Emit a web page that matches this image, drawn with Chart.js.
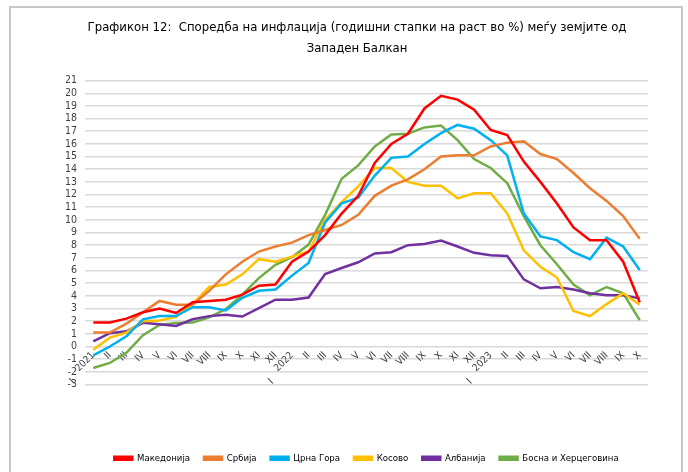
<!DOCTYPE html>
<html>
<head>
<meta charset="utf-8">
<script src="https://cdn.jsdelivr.net/npm/chart.js@4.4.1/dist/chart.umd.min.js"></script>
<style>
  html, body { margin: 0; padding: 0; background: #fff; }
  #wrap { position: relative; width: 688px; height: 472px; overflow: hidden; }
  #frame { position: absolute; left: 9px; top: 6px; width: 670px; height: 520px;
           border: 2px solid #c8c8c8; }
  #c { position: absolute; left: 0; top: 0; }
</style>
</head>
<body>
<div id="wrap">
  <div id="frame"></div>
  <canvas id="c" width="688" height="472"></canvas>
</div>
<script>
// Месеци (јан 2021 – окт 2023), јануари го носи годината
const years = ['2021', '2022', '2023'];
const months = ['I', 'II', 'III', 'IV', 'V', 'VI', 'VII', 'VIII', 'IX', 'X', 'XI', 'XII'];
const lastMonth = 10; // октомври 2023

const makedonija = [1.9, 1.9, 2.2, 2.7, 3.0, 2.65, 3.5, 3.6, 3.7, 4.1, 4.8, 4.9,
  6.7, 7.5, 8.8, 10.5, 11.9, 14.5, 16.0, 16.8, 18.8, 19.8, 19.5, 18.7,
  17.1, 16.7, 14.6, 13.0, 11.3, 9.4, 8.4, 8.4, 6.7, 3.5];
const srbija = [1.1, 1.1, 1.8, 2.7, 3.6, 3.3, 3.3, 4.4, 5.7, 6.7, 7.5, 7.9,
  8.2, 8.8, 9.2, 9.6, 10.4, 11.9, 12.7, 13.2, 14.0, 15.0, 15.1, 15.1,
  15.8, 16.1, 16.2, 15.2, 14.8, 13.7, 12.5, 11.5, 10.3, 8.5];
const crnaGora = [-0.7, 0.0, 0.8, 2.15, 2.4, 2.4, 3.1, 3.1, 2.85, 3.85, 4.4, 4.5,
  5.6, 6.6, 9.8, 11.3, 11.75, 13.5, 14.9, 15.0, 16.0, 16.85, 17.5, 17.2,
  16.3, 15.1, 10.5, 8.7, 8.4, 7.45, 6.9, 8.6, 7.9, 6.05];
const kosovo = [-0.25, 0.7, 1.1, 2.0, 2.05, 2.35, 3.35, 4.7, 4.9, 5.7, 6.9, 6.7,
  7.1, 7.5, 10.0, 11.4, 12.65, 14.1, 14.1, 13.0, 12.7, 12.7, 11.7, 12.1,
  12.1, 10.5, 7.6, 6.3, 5.45, 2.8, 2.4, 3.35, 4.2, 3.3];
const albanija = [0.4, 1.05, 1.2, 1.87, 1.76, 1.63, 2.15, 2.4, 2.5, 2.37, 3.03, 3.7,
  3.7, 3.87, 5.72, 6.2, 6.65, 7.35, 7.45, 8.0, 8.1, 8.37, 7.9, 7.4,
  7.2, 7.15, 5.3, 4.6, 4.7, 4.5, 4.2, 4.05, 4.05, 3.8];
const bih = [-1.7, -1.3, -0.5, 0.9, 1.7, 1.85, 1.9, 2.3, 2.95, 4.1, 5.4, 6.45,
  7.05, 8.05, 10.4, 13.25, 14.3, 15.8, 16.75, 16.8, 17.3, 17.45, 16.3, 14.8,
  14.1, 12.9, 10.3, 8.0, 6.5, 4.9, 4.05, 4.7, 4.2, 2.08];

const yMin = -3, yMax = 21;

// ознаки на x-оската
const labels = [];
years.forEach((y, yi) => {
  const n = yi === years.length - 1 ? lastMonth : 12;
  for (let m = 0; m < n; m++) labels.push(m === 0 ? y : months[m]);
});

const FONT = "'DejaVu Sans Condensed', 'Liberation Sans Narrow', 'Liberation Sans', sans-serif";

const series = [
  { label: 'Македонија', data: makedonija, color: '#ff0000' },
  { label: 'Србија', data: srbija, color: '#ed7d31' },
  { label: 'Црна Гора', data: crnaGora, color: '#00b0f0' },
  { label: 'Косово', data: kosovo, color: '#ffc000' },
  { label: 'Албанија', data: albanija, color: '#7030a0' },
  { label: 'Босна и Херцеговина', data: bih, color: '#70ad47' }
];

// „I“ под годината (втор ред кај јануари)
const janMark = {
  id: 'janMark',
  afterDraw(chart) {
    const { ctx, scales } = chart;
    ctx.save();
    ctx.font = '10px ' + FONT;
    ctx.fillStyle = '#404040';
    labels.forEach((l, i) => {
      if (!years.includes(l)) return;
      const x = scales.x.getPixelForValue(i) - 21;
      const y = scales.y.getPixelForValue(yMin) - 3;
      ctx.translate(x, y);
      ctx.rotate(-Math.PI / 4);
      ctx.textAlign = 'center';
      ctx.textBaseline = 'middle';
      ctx.fillText('I', 0, 0);
      ctx.setTransform(1, 0, 0, 1, 0, 0);
    });
    ctx.restore();
  }
};

new Chart(document.getElementById('c'), {
  type: 'line',
  data: {
    labels: labels,
    datasets: series.map(s => ({
      label: s.label,
      data: s.data,
      borderColor: s.color,
      backgroundColor: s.color,
      borderWidth: 2.5,
      pointRadius: 0,
      tension: 0
    }))
  },
  options: {
    responsive: false,
    animation: false,
    layout: { padding: { left: 66, right: 40, top: 6, bottom: -1 } },
    plugins: {
      title: {
        display: true,
        text: ['Графикон 12:  Споредба на инфлација (годишни стапки на раст во %) меѓу земјите од', 'Западен Балкан'],
        color: '#000',
        font: { family: FONT, size: 13, weight: 'normal', lineHeight: 1.6 },
        padding: { top: 11, bottom: 22 }
      },
      legend: {
        position: 'bottom',
        fullSize: false,
        labels: {
          boxWidth: 18,
          boxHeight: 3,
          padding: 14,
          color: '#000',
          font: { family: FONT, size: 9.5 }
        }
      },
      tooltip: { enabled: false }
    },
    scales: {
      x: {
        position: { y: 0 },
        offset: true,
        grid: { display: false, drawTicks: false },
        border: { display: false },
        ticks: {
          autoSkip: false,
          maxRotation: 45,
          minRotation: 45,
          padding: 3,
          color: '#404040',
          font: { family: FONT, size: 10 }
        }
      },
      // празен простор меѓу графикот и легендата
      gap: {
        type: 'category',
        position: 'bottom',
        grid: { display: false, drawTicks: false },
        border: { display: false },
        ticks: { display: false },
        afterFit: s => { s.height = 55; }
      },
      y: {
        min: yMin,
        max: yMax,
        afterFit: s => { s.width = 19; },
        grid: { color: '#d9d9d9', lineWidth: 1.5, drawTicks: false },
        border: { display: false },
        ticks: {
          stepSize: 1,
          autoSkip: false,
          padding: 8,
          color: '#404040',
          font: { family: FONT, size: 10.5 }
        }
      }
    }
  },
  plugins: [janMark]
});
</script>
</body>
</html>
